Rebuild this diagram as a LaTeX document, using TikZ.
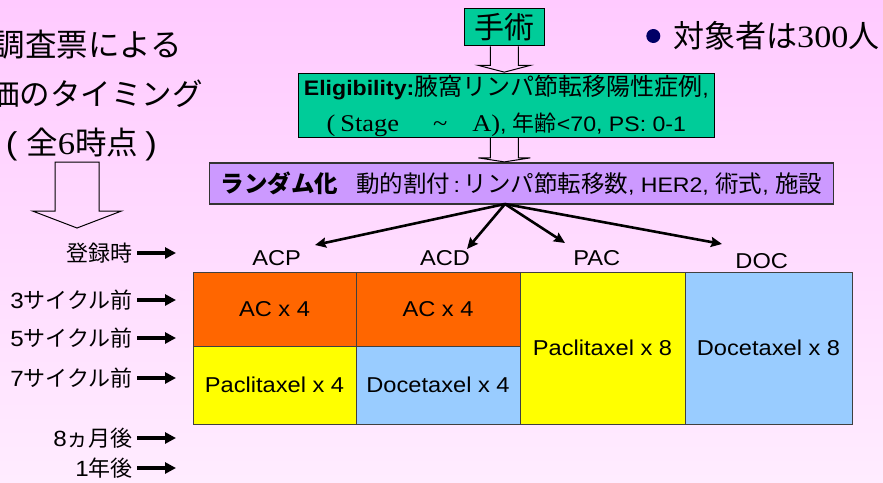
\documentclass[tikz,border=0pt]{standalone}
\usepackage{fontspec}
\setmainfont{Liberation Sans}[FakeStretch=1.1]
\newfontfamily\jp{Noto Sans CJK JP}
\newfontfamily\tms{Liberation Serif}[FakeStretch=1.1]
\usetikzlibrary{arrows.meta,calc}
\newcommand\fs[1]{\fontsize{#1}{#1}\selectfont}
\definecolor{bgtop}{RGB}{255,202,255}
\definecolor{bgbot}{RGB}{255,236,255}
\definecolor{boxgreen}{RGB}{0,204,153}
\definecolor{lav}{RGB}{204,153,255}
\definecolor{orng}{RGB}{255,102,0}
\definecolor{yel}{RGB}{255,255,0}
\definecolor{lblue}{RGB}{153,204,255}
\definecolor{navytwo}{RGB}{0,0,102}
\tikzset{
  gbox/.style={draw=black, line width=1.2pt, fill=boxgreen, inner sep=0},
  blk/.style={draw=black, line width=1pt, line join=miter},
  cell/.style={draw=black!75, line width=0.9pt, inner sep=0, font=\fs{21.5}},
  lab/.style={inner sep=0, font=\fs{22}},
  arm/.style={inner sep=0, font=\fs{21.5}},
  thinarr/.style={line width=2.6pt, -{Stealth[length=11pt,width=10pt,inset=1.5pt]}},
  leftarr/.style={line width=3.5pt, -{Triangle[length=11pt,width=11pt]}, shorten <=4pt},
}
\begin{document}
\begin{tikzpicture}[x=1pt,y=-1pt]
\useasboundingbox (0,0) rectangle (883,482);
\clip (0,0) rectangle (883,482);
\shade[top color=bgtop, bottom color=bgbot] (0,0) rectangle (883,482);

% title (cut at the left edge, as in the slide)
\node[inner sep=0, anchor=base east] (t1) at (182,56) {\jp\fs{31.5}調査票による};
\node[inner sep=0, anchor=base east] (t2) at (203,105) {\jp\fs{30.5}価のタイミング};
\node[inner sep=0, anchor=base east] (t3) at (157,154) {\fs{31.5}(\hspace{9pt}{\jp 全}{\tms 6}{\jp 時点}\hspace{7pt})};
\coordinate (ta) at (77,162);
\draw[blk] ($(ta)+(-22,0)$) -- ++(0,49) -- ++(-22.5,0) -- ($(ta)+(0,66)$) -- ($(ta)+(44.5,49)$) -- ++(-22.5,0) -- ($(ta)+(22,0)$) -- cycle;

% target
\node[circle, fill=navytwo, minimum size=14, inner sep=0] (bul) at (653.3,36) {};
\node[inner sep=0, anchor=base west] (tg) at (673,47) {\jp\fs{31}対象者は{\tms 300}人};

% flow boxes
\node[gbox, minimum width=80, minimum height=37.5] (surg) at (504.3,27) {\jp\fs{30}手術};
\node[gbox, minimum width=416, minimum height=63.5, align=center, font=\fontsize{21}{36}\selectfont] (elig) at (506.3,105.5)
  {{\bfseries Eligibility:}{\jp\fs{24}腋窩リンパ節転移陽性症例},\\
   {\tms\fs{24}(\hspace{5pt}Stage}\hspace{34pt}{\tms\fs{24}\textasciitilde}\hspace{25pt}{\tms\fs{24}A)}, {\jp\fs{22}年齢}<70, PS: 0-1\hspace{4pt}};
\node[draw=black!80, line width=1.2pt, fill=lav, inner sep=0, minimum width=624, minimum height=41] (rand) at (521.4,183.5)
  {{\jp\bfseries\fs{23.5}ランダム化}\hspace{18pt}{\jp\fs{23.5}動的割付}{\fs{21}\,:\,}{\jp\fs{23.5}リンパ節転移数}{\fs{21}, HER2, }{\jp\fs{23.5}術式}{\fs{21}, }{\jp\fs{23.5}施設}};

\draw[blk] ($(surg.south)+(-14,0)$) -- ++(0,19) -- ++(-12,0) -- ($(surg.south|-elig.north)+(0,-1)$) -- ($(surg.south)+(26,19)$) -- ++(-12,0) -- ($(surg.south)+(14,0)$);
\draw[blk] ($(surg.south|-elig.south)+(-14,0)$) -- ++(0,20) -- ++(-12,0) -- ($(surg.south|-rand.north)+(0,-0.5)$) -- ($(surg.south|-elig.south)+(26,20)$) -- ++(-12,0) -- ($(surg.south|-elig.south)+(14,0)$);

% arms
\coordinate (fork) at (505,204);
\coordinate (tACP) at (315,245);
\coordinate (tACD) at (467,249);
\coordinate (tPAC) at (565,243);
\coordinate (tDOC) at (722,244);
\draw[thinarr] (fork) -- (tACP);
\draw[thinarr] (fork) -- (tACD);
\draw[thinarr] (fork) -- (tPAC);
\draw[thinarr] (fork) -- (tDOC);
\node[arm] (aACP) at (276.7,258) {ACP};
\node[arm] (aACD) at (445,258) {ACD};
\node[arm] (aPAC) at (596.7,258) {PAC};
\node[arm] (aDOC) at (761.7,261.5) {DOC};

% grid
\node[cell, fill=orng, minimum width=163, minimum height=74] (c1a) at (274.5,309) {AC x 4};
\node[cell, fill=yel, minimum width=163, minimum height=78] (c1b) at (274.5,385) {Paclitaxel x 4};
\node[cell, fill=orng, minimum width=164, minimum height=74] (c2a) at (438,309) {AC x 4};
\node[cell, fill=lblue, minimum width=164, minimum height=78] (c2b) at (438,385) {Docetaxel x 4};
\node[cell, fill=yel, minimum width=165, minimum height=152] (c3) at (602.5,348) {Paclitaxel x 8};
\node[cell, fill=lblue, minimum width=167, minimum height=152] (c4) at (768.5,348) {Docetaxel x 8};

% time points
\coordinate (tipx) at (176,0);
\node[lab, anchor=east] (r1) at (133,253) {\jp 登録時};
\node[lab, anchor=east] (r2) at (133,300) {3{\jp サイクル前}};
\node[lab, anchor=east] (r3) at (133,338) {5{\jp サイクル前}};
\node[lab, anchor=east] (r4) at (133,378) {7{\jp サイクル前}};
\node[lab, anchor=east] (r5) at (133,438) {8{\jp ヵ月後}};
\node[lab, anchor=east] (r6) at (133,468) {1{\jp 年後}};
\foreach \r in {r1,r2,r3,r4,r5,r6}
  \draw[leftarr] (\r.east) -- (\r.east -| tipx);
\end{tikzpicture}
\end{document}
